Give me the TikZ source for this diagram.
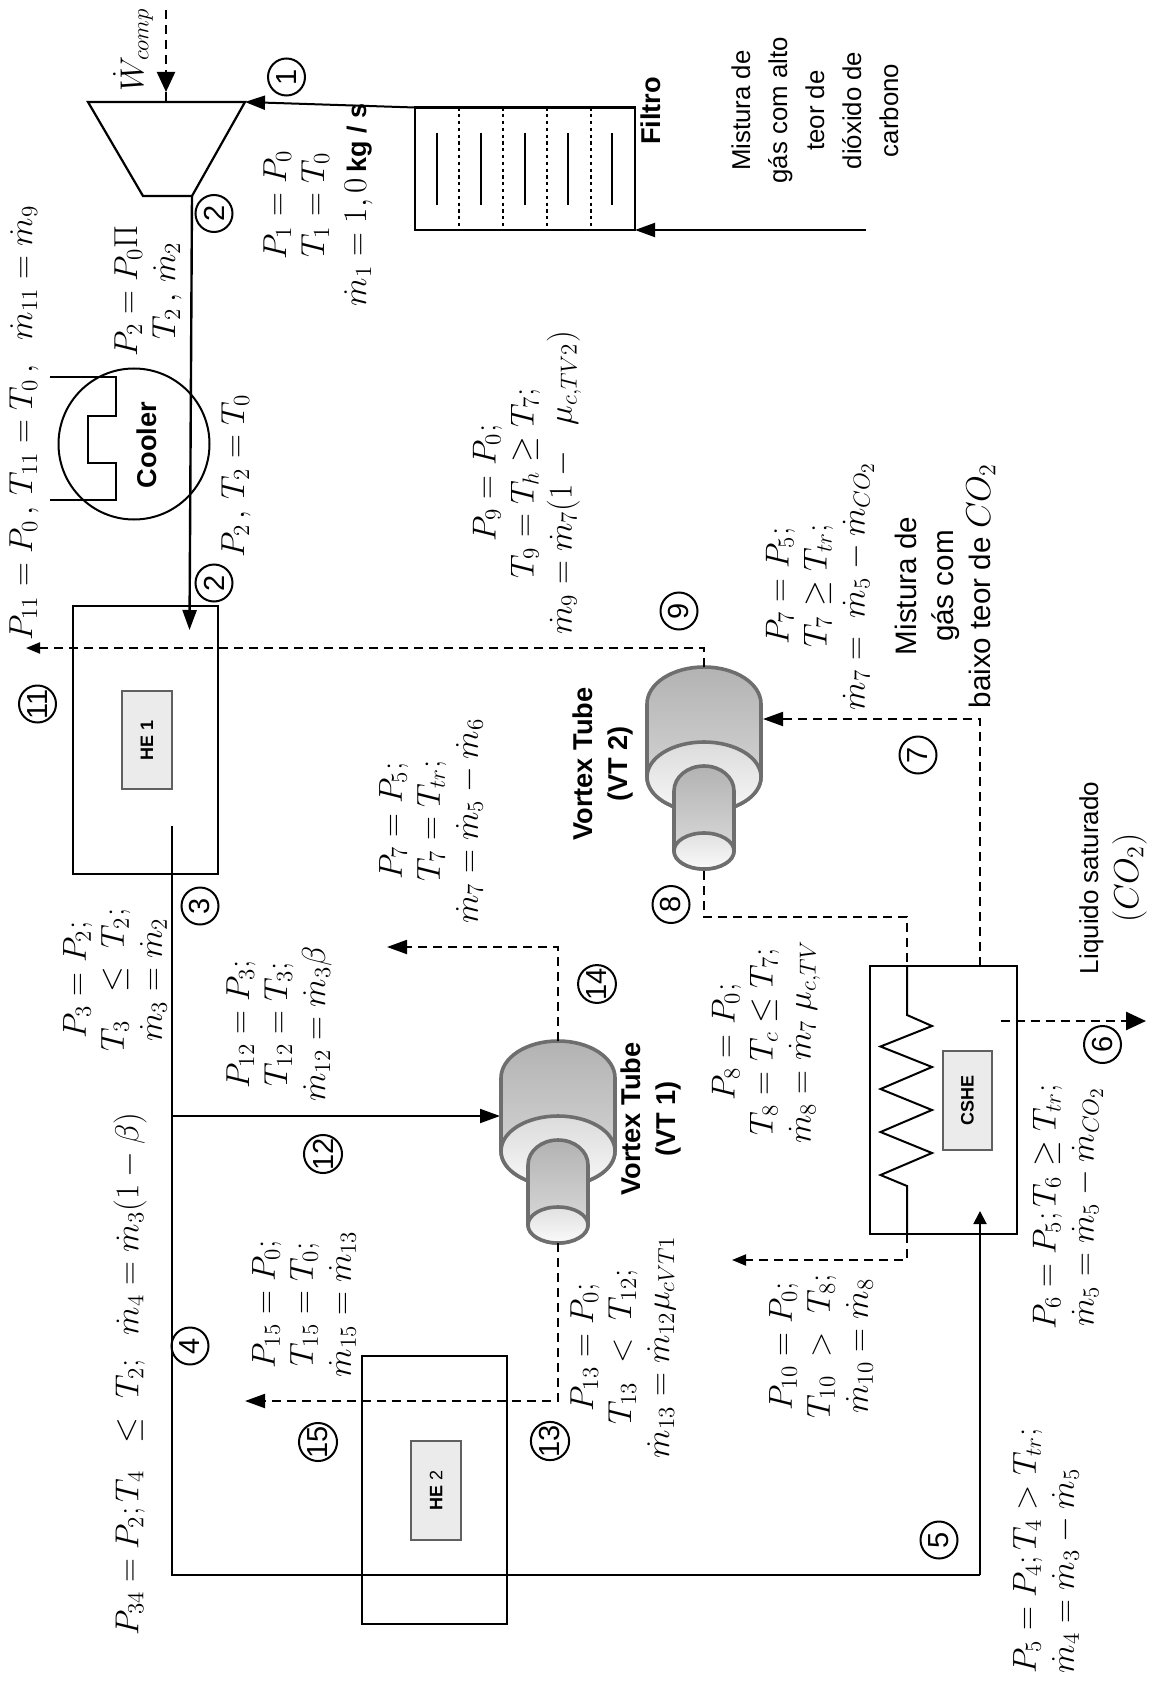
\documentclass[tikz,border=0pt]{standalone}
\usepackage{fontspec}
\setmainfont{Liberation Sans}
\usetikzlibrary{arrows.meta}
\definecolor{vtline}{HTML}{6E6E6E}
\definecolor{heline}{HTML}{606060}
\definecolor{hefill}{HTML}{EBEBEB}
\newcommand{\mdt}{\dot m}
\newcommand{\eqq}{=}
\tikzset{
  eq/.style={rotate=90,align=center,inner sep=0pt,scale=.96,font=\fontsize{17.28}{19.8}\selectfont},
  eqleft/.style={eq,align=left},
  sans/.style={rotate=90,align=center,inner sep=0pt,font=\fontsize{12.9}{18.5}\selectfont},
  sansbold/.style={rotate=90,align=center,inner sep=0pt,font=\fontsize{13.6}{17.5}\selectfont\bfseries},
  num/.style={circle,draw,line width=1pt,minimum size=18.5pt,inner sep=0pt,rotate=90,font=\fontsize{14.5}{14.5}\selectfont},
  box/.style={rectangle,draw,line width=1.1pt,inner sep=0pt,outer sep=0pt},
  inbox/.style={rectangle,draw=heline,line width=1pt,fill=hefill,inner sep=0pt,rotate=90,font=\fontsize{9}{9}\selectfont\bfseries},
  flow/.style={line width=1pt},
  dflow/.style={line width=1pt,dash pattern=on 4.5pt off 3pt},
  tip/.style={-{Triangle[length=10pt,width=7pt]}},
  tipb/.style={-{Triangle[length=10pt,width=9pt]}},
  tips/.style={-{Triangle[length=7pt,width=5.5pt]}},
  tipm/.style={-{Triangle[length=6.5pt,width=6.5pt]}},
  vtube/.pic={
    \begin{scope}[draw=vtline,line width=1.8pt]
    \path[draw,top color=black!30,bottom color=black!14]
      (-57,37) .. controls (-57,16.6) and (-31.5,0) .. (0,0)
      .. controls (31.5,0) and (57,16.6) .. (57,37) -- (57,110)
      .. controls (57,129.3) and (31.5,145) .. (0,145)
      .. controls (-31.5,145) and (-57,129.3) .. (-57,110) -- cycle;
    \path[draw,top color=black!14,bottom color=black!3] (0,110) ellipse [x radius=28.5pt,y radius=17.5pt];
    \path[draw,top color=black!30,bottom color=black!12]
      (-30,124) .. controls (-30,110) and (-16.5,99) .. (0,99)
      .. controls (16.5,99) and (30,110) .. (30,124) -- (30,184)
      .. controls (30,194) and (16.5,202) .. (0,202)
      .. controls (-16.5,202) and (-30,194) .. (-30,184) -- cycle;
    \path[draw,top color=black!12,bottom color=black!2] (0,184) ellipse [x radius=15pt,y radius=9pt];
    \end{scope}
  }
}
\begin{document}
\begin{tikzpicture}[x=.5pt,y=-.5pt]
\useasboundingbox (0,0) rectangle (1153,1690);
\fill[white] (0,0) rectangle (1153,1690);

% ---------- coordinates
\coordinate (wstart) at (166,10);
\coordinate (wend) at (166,102);
\coordinate (cl) at (88,102);
\coordinate (cr) at (245,102);
\coordinate (cbl) at (143,196);
\coordinate (cbr) at (192,196);
\coordinate (filtertl) at (415,107.5);
\coordinate (inlet) at (866,230);
\coordinate (he1in) at (189.5,630);
\coordinate (n3a) at (172,826);
\coordinate (n3b) at (172,1575);
\coordinate (n3c) at (980,1575);
\coordinate (n3d) at (980,1211);
\coordinate (n3j) at (172,1116);
\coordinate (vt1in) at (500,1116);
\coordinate (d9a) at (704,667);
\coordinate (d9b) at (704,648);
\coordinate (d9c) at (26,648);
\coordinate (d14a) at (558,1041);
\coordinate (d14b) at (558,947);
\coordinate (d14c) at (387,947);
\coordinate (d13a) at (558,1243);
\coordinate (d13b) at (558,1401);
\coordinate (d13c) at (245,1401);
\coordinate (d7a) at (980,966);
\coordinate (d7b) at (980,719);
\coordinate (d7c) at (763,719);
\coordinate (d8a) at (704,871);
\coordinate (d8b) at (704,917);
\coordinate (d8c) at (907,917);
\coordinate (d8d) at (907,966);
\coordinate (d10a) at (907,1234);
\coordinate (d10b) at (907,1260);
\coordinate (d10c) at (732,1260);
\coordinate (d6a) at (1000.6,1021);
\coordinate (d6b) at (1146,1021);

% ---------- filter
\node[box,minimum width=110pt,minimum height=61.25pt] (filter) at (525,168.75) {};
\foreach \x in {459,503,547,591} \draw[line width=.9pt,dash pattern=on 1.6pt off 1.8pt] (\x,107.5) -- (\x,230);
\foreach \x in {437,480.5,525,568,612} \draw[line width=1pt] (\x,133) -- (\x,205);
\node[sansbold] (filtrotxt) at (651,111) {Filtro};
\draw[flow,tip] (inlet) -- (filter.south east);
\draw[flow,tip] (filtertl) -- (cr);

% ---------- compressor
\draw[line width=1.1pt] (cl) -- (cr) -- (cbr) -- (cbl) -- cycle;
\draw[line width=1.1pt,dash pattern=on 4.5pt off 3pt] (wstart) -- (166,75);
\draw[line width=1.1pt,tipb] (166,75) -- (166,92);
\draw[line width=1.1pt] (166,92) -- (wend);
\node[eq] (wcomp) at (133,50) {$\dot W_{comp}$};
\draw[line width=1.2pt,tip] (cbr) -- (he1in);

% ---------- cooler
\node[circle,draw,line width=1pt,minimum size=75.5pt,inner sep=0pt] (cooler) at (134,444) {};
\draw[line width=1pt] (50,377) -- (116,377) -- (116,415.5) -- (87.5,415.5) -- (87.5,462.5) -- (116,462.5) -- (116,500) -- (50,500);
\node[sansbold] (coolertxt) at (147,445) {Cooler};

% ---------- HE1
\node[box,minimum width=72.5pt,minimum height=134pt] (he1) at (145.5,740) {};
\node[inbox,minimum width=49pt,minimum height=25pt] (he1in2) at (147,740) {HE 1};
\draw[flow] (n3a) -- (n3b) -- (n3c);
\draw[flow,tipm] (n3c) -- (n3d);
\draw[flow,tip] (n3j) -- (vt1in);

% ---------- HE2
\node[box,minimum width=72.5pt,minimum height=134pt] (he2) at (434.5,1490) {};
\node[inbox,minimum width=49.5pt,minimum height=25pt] (he2in) at (436,1490.5) {HE {\mdseries 2}};

% ---------- CSHE
\node[box,minimum width=73.5pt,minimum height=134pt] (cshe) at (943.5,1100) {};
\node[inbox,minimum width=49.5pt,minimum height=24.5pt] (csin) at (967.5,1100.5) {CSHE};
\draw[flow] (d8d) -- (907,1015) -- (932,1026) -- (880.5,1046.5) -- (932,1067) -- (880.5,1089) -- (932,1110) -- (880.5,1132) -- (932,1153) -- (880.5,1175) -- (907,1186) -- (d10a);

% ---------- vortex tubes
\pic (vttwo) at (704,667) {vtube};
\pic (vtone) at (558,1041) {vtube};
\node[sansbold] (vt2txt) at (603,764) {Vortex Tube\\(VT 2)};
\node[sansbold] (vt1txt) at (651,1119) {Vortex Tube\\(VT 1)};

% ---------- dashed connectors
\draw[dflow,tips] (d9a) -- (d9b) -- (d9c);
\draw[dflow,tip] (d14a) -- (d14b) -- (d14c);
\draw[dflow,tip] (d13a) -- (d13b) -- (d13c);
\draw[dflow,tip] (d7a) -- (d7b) -- (d7c);
\draw[dflow] (d8a) -- (d8b) -- (d8c) -- (d8d);
\draw[dflow,tips] (d10a) -- (d10b) -- (d10c);
\draw[line width=1.3pt,dash pattern=on 4.5pt off 3pt,tipb] (d6a) -- (d6b);

% ---------- numbers
\node[num] (n1) at (286.5,77) {1};
\node[num] (n2) at (214,213.5) {2};
\node[num] (n2b) at (214,583) {2};
\node[num] (n3) at (200,906) {3};
\node[num] (n4) at (190,1346) {4};
\node[num] (n5) at (939,1540) {5};
\node[num] (n6) at (1102.5,1044.5) {6};
\node[num] (n7) at (918,755) {7};
\node[num] (n8) at (671,904.5) {8};
\node[num] (n9) at (679,611) {9};
\node[num] (n11) at (37.5,704) {11};
\node[num] (n12) at (323,1154) {12};
\node[num] (n13) at (550,1441) {13};
\node[num] (n14) at (597,984) {14};
\node[num] (n15) at (318,1442) {15};

% ---------- equations
\node[eq] (e1) at (318,205) {$P_1\eqq P_0$\\$T_1\eqq T_0$\\[2pt]$\mdt_1\eqq 1,0$\,{\fontsize{14}{14}\selectfont\bfseries kg / s}};
\node[eq] (e2) at (148,291) {$P_2\eqq P_0\Pi$\\$T_2\,,\,\mdt_2$};
\node[eq] (e2b) at (236,476) {$P_2\,,\,T_2\eqq T_0$};
\node[eq] (e11) at (24,423) {$P_{11}\eqq P_0\,,\,T_{11}\eqq T_0\,,\;\;\mdt_{11}\eqq \mdt_9$};
\node[eq] (e3) at (115,980) {$P_3\eqq P_2;$\\$T_3\;\;\le\;T_2;$\\$\mdt_3\eqq \mdt_2$};
\node[eq] (e12) at (279,1024) {$P_{12}\eqq P_3;$\\$T_{12}\eqq T_3;$\\$\mdt_{12}\eqq \mdt_3\beta$};
\node[eq] (e7a) at (431,821) {$P_7\eqq P_5;$\\$T_7\eqq T_{tr};$\\$\mdt_7\eqq \mdt_5-\mdt_6$};
\node[eq] (e9) at (527,483) {$P_9\eqq P_0;$\\$T_9\eqq T_h\ge T_7;$\\$\mdt_9\eqq \mdt_7(1-\;\;\mu_{c,TV2})$};
\node[eq] (e7b) at (820,586) {$P_7\eqq P_5;$\\$T_7\ge T_{tr};$\\$\mdt_7\eqq\;\mdt_5-\mdt_{CO_2}$};
\node[eq] (e8) at (766,1042) {$P_8\eqq P_0;$\\$T_8\eqq T_c\le T_7;$\\$\mdt_8\eqq \mdt_7\;\mu_{c,TV}$};
\node[eq] (e6) at (1068,1207) {$P_6\eqq P_5;T_6\ge T_{tr};$\\$\mdt_5\eqq \mdt_5-\mdt_{CO_2}$};
\node[eq] (e10) at (821,1346) {$P_{10}\eqq P_0;$\\$T_{10}\;>\;T_8;$\\$\mdt_{10}\eqq \mdt_8$};
\node[eqleft] (e5) at (1046,1551) {$P_5\eqq P_4;T_4>T_{tr};$\\$\mdt_4\eqq \mdt_3-\mdt_5$};
\node[eq] (e13) at (623,1347) {$P_{13}\eqq P_0;$\\$T_{13}\;<\;T_{12};$\\$\mdt_{13}\eqq \mdt_{12}\mu_{cVT1}$};
\node[eq] (e15) at (304,1304) {$P_{15}\eqq P_0;$\\$T_{15}\eqq T_0;$\\$\mdt_{15}\eqq \mdt_{13}$};
\node[eq] (e34) at (130,1374) {$P_{34}\eqq P_2;T_4\;\;\le\;T_2;\;\;\mdt_4\eqq \mdt_3(1-\beta)$};

% ---------- sans labels
\node[sans] (mixhigh) at (815,110.5) {Mistura de\\gás com alto\\teor de\\dióxido de\\carbono};
\node[sans,font=\fontsize{14.8}{18.5}\selectfont] (mixlow) at (945,586) {Mistura de\\gás com\\baixo teor de {\fontsize{17.28}{19}\selectfont$CO_2$}};
\node[sans,font=\fontsize{13}{20}\selectfont] (liq) at (1113,878) {Liquido saturado\\\fontsize{17.28}{19}\selectfont$(CO_2)$};
\end{tikzpicture}
\end{document}
